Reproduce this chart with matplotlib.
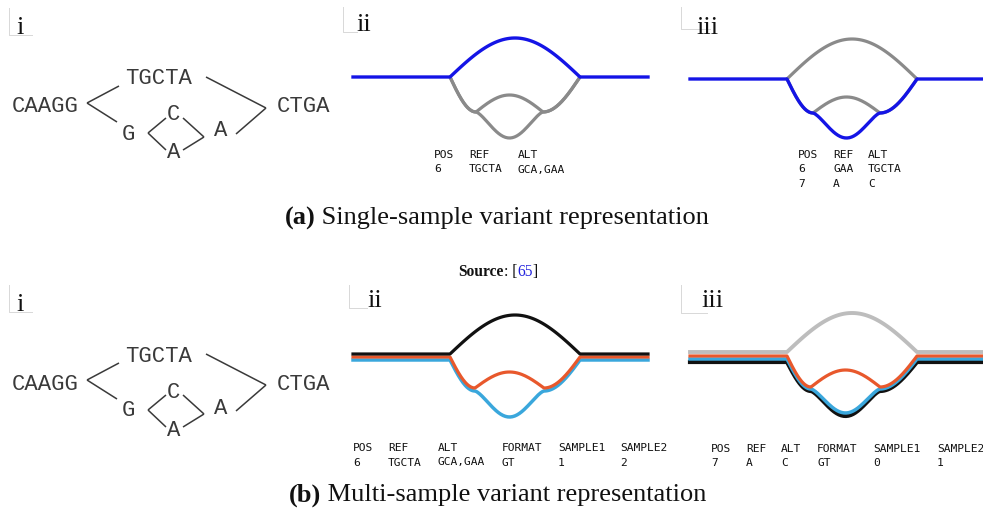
import numpy as np
import matplotlib
matplotlib.use("Agg")
import matplotlib.pyplot as plt

W, H = 983, 514

# ---------------- data ----------------
graph_labels = ["CAAGG", "TGCTA", "CTGA", "G", "C", "A", "A"]
graph_label_xy = [(45, 107), (159, 79), (304, 107), (128, 134), (173, 115), (221, 131), (174, 153)]
graph_edges = [((87, 103), (119, 86)), ((87, 103), (117, 122)), ((206, 77), (266, 108)),
               ((266, 108), (236, 134)), ((148, 133), (166, 118)), ((148, 133), (166, 150)),
               ((183, 118), (204, 137)), ((183, 150), (204, 137))]

table_a2_cols = ["POS", "REF", "ALT"]
table_a2_rows = [["6", "TGCTA", "GCA,GAA"]]
table_a3_cols = ["POS", "REF", "ALT"]
table_a3_rows = [["6", "GAA", "TGCTA"], ["7", "A", "C"]]
table_b2_cols = ["POS", "REF", "ALT", "FORMAT", "SAMPLE1", "SAMPLE2"]
table_b2_rows = [["6", "TGCTA", "GCA,GAA", "GT", "1", "2"]]
table_b3_cols = ["POS", "REF", "ALT", "FORMAT", "SAMPLE1", "SAMPLE2"]
table_b3_rows = [["7", "A", "C", "GT", "0", "1"]]

caption_a = "Single-sample variant representation"
caption_b = "Multi-sample variant representation"

BLUE = "#1414e6"
GRAY = "#8a8a8a"
LGRAY = "#bdbdbd"
ORANGE = "#e8582c"
SKY = "#3aa7dc"
BLACK = "#111111"

fig = plt.figure(figsize=(W / 100, H / 100), dpi=100)
ax = fig.add_axes([0, 0, 1, 1])
ax.set_xlim(0, W)
ax.set_ylim(H, 0)
ax.axis("off")

N = 60


def descent(x0, y0, x1, y1):
    t = np.linspace(0, 1, N)
    return x0 + (x1 - x0) * t, y0 + (y1 - y0) * np.sin(np.pi / 2 * t)


def ascent(x0, y0, x1, y1):
    t = np.linspace(0, 1, N)
    return x0 + (x1 - x0) * t, y0 + (y1 - y0) * (1 - np.cos(np.pi / 2 * t))


def arch(x0, x1, y, h):
    t = np.linspace(0, 1, N)
    return x0 + (x1 - x0) * t, y - h * np.sin(np.pi * t)


def bowl(x0, x1, y, h):
    t = np.linspace(0, 1, N)
    return x0 + (x1 - x0) * t, y + h * np.sin(np.pi * t) ** 1.4


def route(kind, xs, xe, xL, xR, xa, xb, y0, yj, htop, hin, hlow, flat=True):
    parts = []
    if flat:
        parts.append((np.array([xs, xL]), np.array([y0, y0])))
    if kind == "top":
        parts.append(arch(xL, xR, y0, htop))
    else:
        parts.append(descent(xL, y0, xa, yj))
        if kind == "inner":
            parts.append(arch(xa, xb, yj, hin))
        else:
            parts.append(bowl(xa, xb, yj, hlow))
        parts.append(ascent(xb, yj, xR, y0))
    if flat:
        parts.append((np.array([xR, xe]), np.array([y0, y0])))
    x = np.concatenate([p[0] for p in parts])
    y = np.concatenate([p[1] for p in parts])
    return x, y


def draw_graph(dy):
    for s, (x, y) in zip(graph_labels, graph_label_xy):
        ax.text(x, y + dy, s, family="Liberation Mono", fontsize=16, color="#3a3a3a",
                ha="center", va="center")
    for (p, q) in graph_edges:
        ax.plot([p[0], q[0]], [p[1] + dy, q[1] + dy], color="#3a3a3a", lw=1.1,
                solid_capstyle="butt")


def draw_table(cols, rows, xs, y0, dyrow=14.5):
    for j, c in enumerate(cols):
        ax.text(xs[j], y0, c, family="DejaVu Sans Mono", fontsize=8.1, color="#111",
                ha="left", va="center")
        for i, r in enumerate(rows):
            ax.text(xs[j], y0 + (i + 1) * dyrow, r[j], family="DejaVu Sans Mono",
                    fontsize=8.1, color="#111", ha="left", va="center")


def panel_label(txt, xc, yb, box):
    ax.text(xc, yb, txt, family="Liberation Serif", fontsize=19, color="#111",
            ha="center", va="baseline")
    x0, x1, y0, y1 = box
    ax.plot([x0, x0, x1], [y0, y1, y1], color="#d8d8d8", lw=0.7)


inv = ax.transData.inverted()


def run_text(x, y, pieces, size, center=True):
    """pieces: list of (text, weight, color); draws them in a row."""
    if center:
        probe = ax.text(0, y, "".join(p[0] for p in pieces), family="Liberation Serif",
                        fontsize=size, ha="left", va="center", alpha=0)
        fig.canvas.draw()
        bb = probe.get_window_extent()
        w = inv.transform((bb.x1, 0))[0] - inv.transform((bb.x0, 0))[0]
        probe.remove()
        x = x - w / 2
    for s, wgt, col in pieces:
        t = ax.text(x, y, s, family="Liberation Serif", fontsize=size, fontweight=wgt,
                    color=col, ha="left", va="center")
        fig.canvas.draw()
        x = inv.transform((t.get_window_extent().x1, 0))[0]


# ---------------- (a) ----------------
panel_label("i", 20, 34, (9, 32, 8, 35))
draw_graph(0)

panel_label("ii", 364, 31, (343, 357, 7, 32))
g = dict(xL=450, xR=580, xa=476, xb=543, y0=77, yj=112, htop=39, hin=17, hlow=26)
for k in ["inner", "low"]:
    x, y = route(k, 353, 648, flat=False, **g)
    ax.plot(x, y, color=GRAY, lw=2.3, solid_capstyle="round")
x, y = route("top", 353, 648, **g)
ax.plot(x, y, color=BLUE, lw=2.4)
draw_table(table_a2_cols, table_a2_rows, [434, 469, 518], 155)

panel_label("iii", 707, 34, (681, 710, 7, 29))
g = dict(xL=787, xR=917, xa=813, xb=880, y0=79, yj=113, htop=40, hin=16, hlow=25)
x, y = route("top", 690, 983, flat=False, **g)
ax.plot(x, y, color=GRAY, lw=2.3)
x, y = route("inner", 690, 983, flat=False, **g)
ax.plot(x, y, color=GRAY, lw=2.3)
x, y = route("low", 690, 990, **g)
ax.plot(x, y, color=BLUE, lw=2.4)
draw_table(table_a3_cols, table_a3_rows, [798, 833, 868], 155)

run_text(496, 218, [("(a)", "bold", "#111"), (" " + caption_a, "normal", "#111")], 19)
run_text(497, 272, [("Source", "bold", "#111"), (": [", "normal", "#111"),
                    ("65", "normal", "#2222dd"), ("]", "normal", "#111")], 11.2)

# ---------------- (b) ----------------
panel_label("i", 20, 311, (9, 32, 285, 312))
draw_graph(277)

panel_label("ii", 375, 307, (349, 367, 285, 308))
g = dict(xL=450, xR=580, xa=475, xb=544, y0=354, yj=388, htop=39, hin=16, hlow=26)
x, y = route("low", 353, 648, **{**g, "y0": 360, "yj": 391})
ax.plot(x, y, color=SKY, lw=2.5)
x, y = route("inner", 353, 648, **{**g, "y0": 357})
ax.plot(x, y, color=ORANGE, lw=2.3)
x, y = route("top", 353, 648, **g)
ax.plot(x, y, color=BLACK, lw=2.3)
draw_table(table_b2_cols, table_b2_rows, [353, 388, 438, 502, 558, 620], 448)

panel_label("iii", 712, 307, (681, 707, 285, 313))
g = dict(xL=787, xR=917, xa=811, xb=880, y0=352, yj=387, htop=39, hin=17, hlow=25)
x, y = route("low", 690, 990, **{**g, "y0": 362, "yj": 391, "hlow": 25})
ax.plot(x, y, color=BLACK, lw=3.0)
x, y = route("low", 690, 990, **{**g, "y0": 359, "yj": 389, "hlow": 24})
ax.plot(x, y, color=SKY, lw=2.5)
x, y = route("inner", 690, 990, **{**g, "y0": 356})
ax.plot(x, y, color=ORANGE, lw=2.3)
x, y = route("top", 690, 990, **g)
ax.plot(x, y, color=LGRAY, lw=2.8)
draw_table(table_b3_cols, table_b3_rows, [711, 746, 781, 817, 873, 937], 449)

run_text(497, 495, [("(b)", "bold", "#111"), (" " + caption_b, "normal", "#111")], 19)

fig.savefig("out.png", dpi=100)
